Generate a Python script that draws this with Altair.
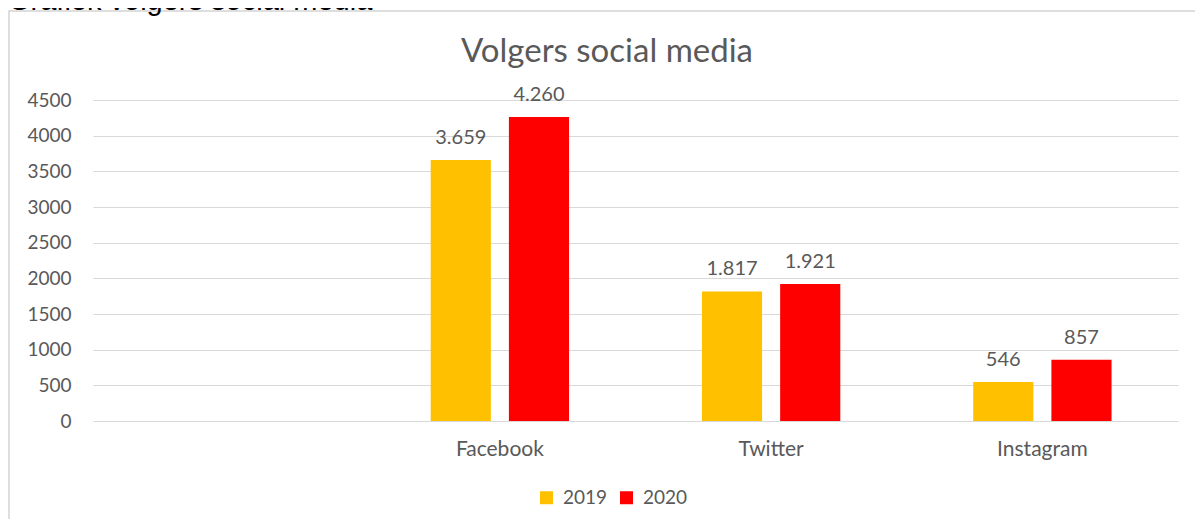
import altair as alt
import pandas as pd

# ---- data ----
platforms = ["Facebook", "Twitter", "Instagram"]
axis_domain = ["", "Facebook", "Twitter", "Instagram"]
years = ["2019", "2020"]
followers_2019 = [3659, 1817, 546]
followers_2020 = [4260, 1921, 857]
y_ticks = [0, 500, 1000, 1500, 2000, 2500, 3000, 3500, 4000, 4500]
colors = ["#FFC000", "#FF0000"]
chart_title = "Volgers social media"
heading_text = "Grafiek volgers social media"

rows = []
for p, a, b in zip(platforms, followers_2019, followers_2020):
    rows.append({"platform": p, "year": "2019", "value": a})
    rows.append({"platform": p, "year": "2020", "value": b})
df = pd.DataFrame(rows)

TXT = "#595959"
FONT = "Lato"

x_enc = alt.X(
    "platform:N",
    scale=alt.Scale(domain=axis_domain, paddingInner=0.49, paddingOuter=0.245),
    sort=axis_domain,
    axis=alt.Axis(title=None, labelAngle=0, ticks=False, domain=False,
                  labelFont=FONT, labelFontSize=21, labelColor=TXT,
                  labelPadding=17),
)
xoff_enc = alt.XOffset("year:N", scale=alt.Scale(domain=years, paddingInner=0.2308, paddingOuter=0))
y_enc = alt.Y(
    "value:Q",
    scale=alt.Scale(domain=[0, 4500], nice=False),
    axis=alt.Axis(title=None, values=y_ticks, format="d", domain=False, ticks=False,
                  grid=True, gridColor="#D9D9D9", gridWidth=1,
                  labelFont=FONT, labelFontSize=19, labelColor=TXT,
                  labelPadding=22),
)

base = alt.Chart(df)

bars = base.mark_bar().encode(
    x=x_enc,
    xOffset=xoff_enc,
    y=y_enc,
    color=alt.Color(
        "year:N",
        scale=alt.Scale(domain=years, range=colors),
        legend=alt.Legend(title=None, orient="none", legendX=444, legendY=388,
                          direction="horizontal", symbolType="square",
                          symbolSize=169, symbolStrokeWidth=0,
                          labelFont=FONT, labelFontSize=19, labelColor=TXT,
                          labelOffset=7, columnPadding=9),
    ),
)

labels = base.transform_calculate(
    label="replace(format(datum.value, ',d'), ',', '.')"
).mark_text(dy=-16, baseline="alphabetic", font=FONT, fontSize=20, color=TXT).encode(
    x=x_enc,
    xOffset=xoff_enc,
    y=y_enc,
    text="label:N",
)

frame_df = pd.DataFrame({"k": [0]})
border = alt.Chart(frame_df).mark_rect(fillOpacity=0, stroke="#D4D4D4", strokeWidth=1.5).encode(
    x=alt.value(-84), x2=alt.value(1140), y=alt.value(-89), y2=alt.value(470)
)

heading = alt.Chart(pd.DataFrame({"t": [heading_text]})).mark_text(
    align="left", baseline="alphabetic", font="Liberation Sans", fontSize=29, color="#000000"
).encode(x=alt.value(-85), y=alt.value(-90), text="t:N")

title = alt.Chart(pd.DataFrame({"t": [chart_title]})).mark_text(
    align="center", baseline="alphabetic", font=FONT, fontSize=33, color=TXT
).encode(x=alt.value(514), y=alt.value(-38), text="t:N")

chart = alt.layer(border, heading, title, bars, labels).properties(
    width=1085,
    height=321,
    autosize=alt.AutoSizeParams(type="none"),
    padding={"left": 85, "top": 92, "right": 17, "bottom": 98},
).configure(background="white").configure_view(strokeWidth=0)

chart.save("out.html", embed_options={"renderer": "svg", "actions": False})
